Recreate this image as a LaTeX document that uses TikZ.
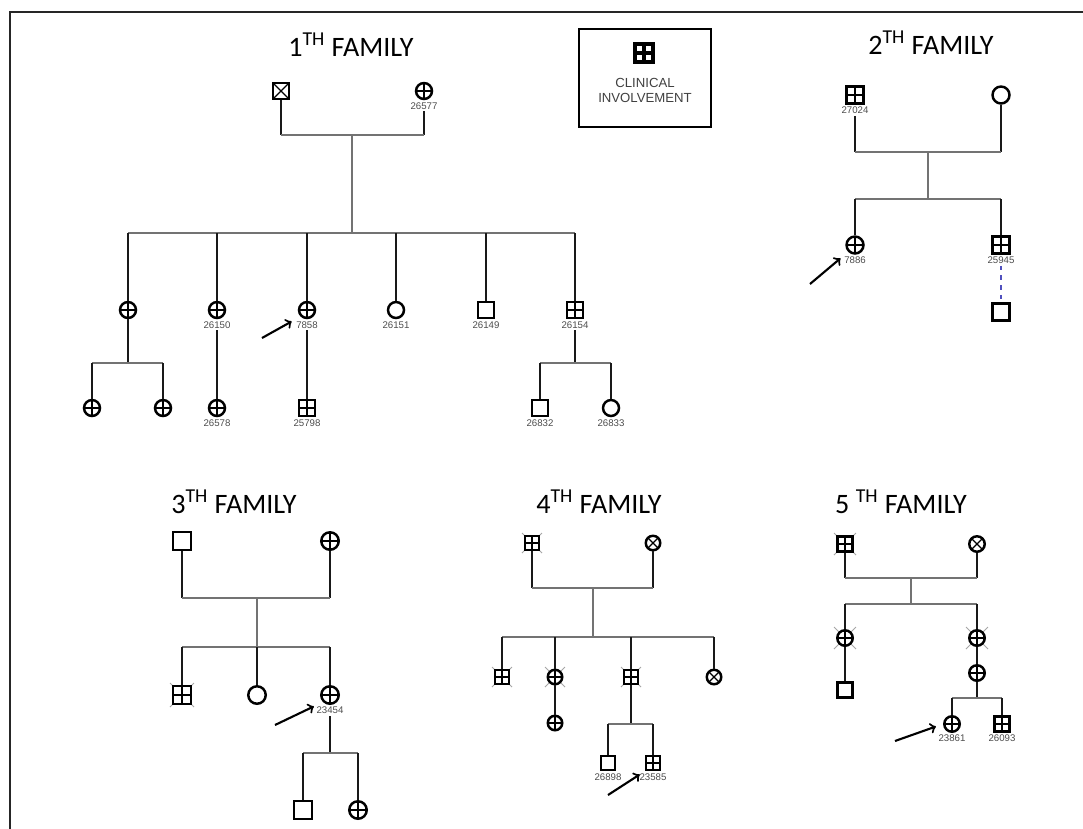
\documentclass[tikz,border=0pt]{standalone}
\usepackage{fontspec}
\setmainfont{Carlito}
\newfontfamily\arialf{Liberation Sans}
\newcommand{\pedid}{\arialf\fontsize{5.5}{6}\selectfont}
\usetikzlibrary{positioning,backgrounds}
\definecolor{dotblue}{RGB}{80,80,190}
\tikzset{
  male/.style={draw, rectangle, minimum size=0.32cm, inner sep=0pt, line width=1.4pt, fill=white},
  female/.style={draw, circle, minimum size=0.32cm, inner sep=0pt, line width=1.4pt, fill=white},
  aff/.style={path picture={\draw[line width=#1] (path picture bounding box.north) -- (path picture bounding box.south) (path picture bounding box.west) -- (path picture bounding box.east);}},
  aff/.default=1.1pt,
  xin/.style={path picture={\draw[line width=0.7pt] (path picture bounding box.north west) -- (path picture bounding box.south east) (path picture bounding box.north east) -- (path picture bounding box.south west);}},
  idlab/.style={font=\pedid, text=black!70, inner sep=1pt},
  famtitle/.style={font=\fontsize{16}{18}\selectfont, inner sep=0pt},
  stem/.style={line width=1.3pt, black!90},
  bar/.style={line width=1.1pt, black!55},
  dec/.style={line width=0.5pt, black!35},
  pointer/.style={->, line width=1.2pt, shorten >=0.2cm}
}
\begin{document}
\begin{tikzpicture}[x=0.02cm, y=-0.02cm]  %1 px = 0.02 cm
\useasboundingbox (0,0) rectangle (1083,829);
\draw[line width=1.4pt, black!85] (1083,12) -- (10,12) -- (10,829); %moldura
    %Legenda
\node[draw, line width=1.5pt, minimum width=2.64cm, minimum height=1.96cm] (legbox) at (645,78) {};
\node[male, aff=1.8pt, line width=2.2pt, minimum size=0.36cm] (legsym) at (644,53) {};
\node[font=\arialf\fontsize{7.5}{8.5}\selectfont, text=black!75, align=center] (legtext) at (645,90.5) {CLINICAL\\INVOLVEMENT};
    %Familia 1
\node[famtitle] (t1) at (351,45) {1\textsuperscript{TH} FAMILY};
\node[male, xin] (f1dad) at (281,91) {};
\node[female, aff] (f1mom) at (424,91) {};
\node[idlab, below=0pt of f1mom] (f1momid) {26577};
\coordinate (f1m) at (352,135);
\coordinate (f1s) at (352,233);
\node[female, aff] (f1c1) at (128,310) {};
\node[female, aff] (f1c2) at (217,310) {};
\node[female, aff] (f1c3) at (307,310) {};
\node[female] (f1c4) at (396,310) {};
\node[male] (f1c5) at (486,310) {};
\node[male, aff] (f1c6) at (575,310) {};
\node[idlab, below=0pt of f1c2] (f1c2id) {26150};
\node[idlab, below=0pt of f1c3] (f1c3id) {7858};
\node[idlab, below=0pt of f1c4] (f1c4id) {26151};
\node[idlab, below=0pt of f1c5] (f1c5id) {26149};
\node[idlab, below=0pt of f1c6] (f1c6id) {26154};
\coordinate (f1s1) at (128,363);
\coordinate (f1s6) at (575,363);
\node[female, aff] (f1g1) at (92,408) {};
\node[female, aff] (f1g2) at (163,408) {};
\node[female, aff] (f1g3) at (217,408) {};
\node[male, aff] (f1g4) at (307,408) {};
\node[male] (f1g5) at (540,408) {};
\node[female] (f1g6) at (611,408) {};
\node[idlab, below=0pt of f1g3] (f1g3id) {26578};
\node[idlab, below=0pt of f1g4] (f1g4id) {25798};
\node[idlab, below=0pt of f1g5] (f1g5id) {26832};
\node[idlab, below=0pt of f1g6] (f1g6id) {26833};
\draw[stem] (f1dad.south) -- (f1dad |- f1m);
\draw[stem] (f1momid.south) -- (f1mom |- f1m);
\draw[bar] (f1dad |- f1m) -- (f1mom |- f1m);
\draw[bar] (f1m) -- (f1s);
\draw[bar] (f1c1 |- f1s) -- (f1c6 |- f1s);
\foreach \c in {f1c1,f1c2,f1c3,f1c4,f1c5,f1c6} \draw[stem] (\c |- f1s) -- (\c.north);
\draw[stem] (f1c1.south) -- (f1s1);
\draw[bar] (f1g1 |- f1s1) -- (f1g2 |- f1s1);
\draw[stem] (f1c2id.south) -- (f1g3.north);
\draw[stem] (f1c3id.south) -- (f1g4.north);
\draw[stem] (f1c6id.south) -- (f1s6);
\draw[bar] (f1g5 |- f1s6) -- (f1g6 |- f1s6);
\foreach \c/\s in {f1g1/f1s1,f1g2/f1s1,f1g5/f1s6,f1g6/f1s6} \draw[stem] (\c |- \s) -- (\c.north);
\coordinate (f1arr) at (262,338);
\draw[pointer] (f1arr) -- (f1c3.south west); %probando
    %Familia 2
\begin{scope}[male/.append style={minimum size=0.34cm}, female/.append style={minimum size=0.34cm}]
\node[famtitle] (t2) at (931,43) {2\textsuperscript{TH} FAMILY};
\node[male, aff] (f2dad) at (855,95) {};
\node[female] (f2mom) at (1001,95) {};
\node[idlab, below=0pt of f2dad] (f2dadid) {27024};
\coordinate (f2m) at (928,152);
\coordinate (f2s) at (928,199);
\node[female, aff] (f2c1) at (855,245) {};
\node[male, aff] (f2c2) at (1001,245) {};
\node[idlab, below=0pt of f2c1] (f2c1id) {7886};
\node[idlab, below=0pt of f2c2] (f2c2id) {25945};
\node[male] (f2g1) at (1001,312) {};
\end{scope}
\draw[stem] (f2dadid.south) -- (f2dad |- f2m);
\draw[stem] (f2mom.south) -- (f2mom |- f2m);
\draw[bar] (f2dad |- f2m) -- (f2mom |- f2m);
\draw[bar] (f2m) -- (f2s);
\draw[bar] (f2c1 |- f2s) -- (f2c2 |- f2s);
\foreach \c in {f2c1,f2c2} \draw[stem] (\c |- f2s) -- (\c.north);
\draw[line width=1.4pt, dotblue, dash pattern=on 2.5pt off 3pt] (f2c2id.south) -- (f2g1.north);
\coordinate (f2arr) at (810,284);
\draw[pointer] (f2arr) -- (f2c1.south west);
    %Familia 3
\begin{scope}[male/.append style={minimum size=0.35cm}, female/.append style={minimum size=0.35cm}]
\node[famtitle] (t3) at (234,502) {3\textsuperscript{TH} FAMILY};
\node[male] (f3dad) at (182,541) {};
\node[female, aff] (f3mom) at (330,541) {};
\coordinate (f3m) at (257,598);
\coordinate (f3s) at (257,647);
\node[male, aff] (f3c1) at (182,695) {};
\node[female] (f3c2) at (257,695) {};
\node[female, aff] (f3c3) at (330,695) {};
\node[idlab, below=0pt of f3c3] (f3c3id) {23454};
\coordinate (f3s3) at (330,753);
\node[male] (f3g1) at (303,810) {};
\node[female, aff] (f3g2) at (358,810) {};
\end{scope}
\draw[stem] (f3dad.south) -- (f3dad |- f3m);
\draw[stem] (f3mom.south) -- (f3mom |- f3m);
\draw[bar] (f3dad |- f3m) -- (f3mom |- f3m);
\draw[bar] (f3m) -- (f3s);
\draw[bar] (f3c1 |- f3s) -- (f3c3 |- f3s);
\foreach \c in {f3c1,f3c2,f3c3} \draw[stem] (\c |- f3s) -- (\c.north);
\draw[stem] (f3c3id.south) -- (f3s3);
\draw[bar] (f3g1 |- f3s3) -- (f3g2 |- f3s3);
\foreach \c in {f3g1,f3g2} \draw[stem] (\c |- f3s3) -- (\c.north);
\coordinate (f3arr) at (275,725);
\draw[pointer] (f3arr) -- (f3c3.south west);
    %Familia 4
\begin{scope}[male/.append style={minimum size=0.28cm}, female/.append style={minimum size=0.29cm}]
\node[famtitle] (t4) at (599,502) {4\textsuperscript{TH} FAMILY};
\node[male, aff] (f4dad) at (532,543) {};
\node[female, xin] (f4mom) at (653,543) {};
\coordinate (f4m) at (593,588);
\coordinate (f4s) at (593,637);
\node[male, aff] (f4c1) at (502,677) {};
\node[female, aff] (f4c2) at (555,677) {};
\node[male, aff] (f4c3) at (631,677) {};
\node[female, xin] (f4c4) at (714,677) {};
\node[female, aff] (f4g1) at (555,723) {};
\coordinate (f4s3) at (631,724);
\node[male] (f4g2) at (608,763) {};
\node[male, aff] (f4g3) at (653,763) {};
\node[idlab, below=0pt of f4g2] (f4g2id) {26898};
\node[idlab, below=0pt of f4g3] (f4g3id) {23585};
\end{scope}
\draw[stem] (f4dad.south) -- (f4dad |- f4m);
\draw[stem] (f4mom.south) -- (f4mom |- f4m);
\draw[bar] (f4dad |- f4m) -- (f4mom |- f4m);
\draw[bar] (f4m) -- (f4s);
\draw[bar] (f4c1 |- f4s) -- (f4c4 |- f4s);
\foreach \c in {f4c1,f4c2,f4c3,f4c4} \draw[stem] (\c |- f4s) -- (\c.north);
\draw[stem] (f4c2.south) -- (f4g1.north);
\draw[stem] (f4c3.south) -- (f4s3);
\draw[bar] (f4g2 |- f4s3) -- (f4g3 |- f4s3);
\foreach \c in {f4g2,f4g3} \draw[stem] (\c |- f4s3) -- (\c.north);
\coordinate (f4arr) at (608,795);
\draw[pointer, shorten >=0.12cm] (f4arr) -- (f4g3.south west);
    %Familia 5
\begin{scope}[male/.append style={minimum size=0.30cm}, female/.append style={minimum size=0.31cm}]
\node[famtitle] (t5) at (901,502) {5 \textsuperscript{TH} FAMILY};
\node[male, aff] (f5dad) at (845,544) {};
\node[female, xin] (f5mom) at (977,544) {};
\coordinate (f5m) at (911,578);
\coordinate (f5s) at (911,604);
\node[female, aff] (f5c1) at (845,638) {};
\node[female, aff] (f5c2) at (977,638) {};
\node[male] (f5g1) at (845,690) {};
\node[female, aff] (f5g2) at (977,673) {};
\coordinate (f5s2) at (977,698);
\node[female, aff] (f5h1) at (952,724) {};
\node[male, aff] (f5h2) at (1002,724) {};
\node[idlab, below=0pt of f5h1] (f5h1id) {23861};
\node[idlab, below=0pt of f5h2] (f5h2id) {26093};
\end{scope}
\draw[stem] (f5dad.south) -- (f5dad |- f5m);
\draw[stem] (f5mom.south) -- (f5mom |- f5m);
\draw[bar] (f5dad |- f5m) -- (f5mom |- f5m);
\draw[bar] (f5m) -- (f5s);
\draw[bar] (f5c1 |- f5s) -- (f5c2 |- f5s);
\foreach \c in {f5c1,f5c2} \draw[stem] (\c |- f5s) -- (\c.north);
\draw[stem] (f5c1.south) -- (f5g1.north);
\draw[stem] (f5c2.south) -- (f5g2.north);
\draw[stem] (f5g2.south) -- (f5s2);
\draw[bar] (f5h1 |- f5s2) -- (f5h2 |- f5s2);
\foreach \c in {f5h1,f5h2} \draw[stem] (\c |- f5s2) -- (\c.north);
\coordinate (f5arr) at (895,741);
\draw[pointer, shorten >=0.15cm] (f5arr) -- (f5h1.west);
    %Falecidos (cruz cinza)
\begin{scope}[on background layer]
\foreach \n/\r in {f3c1/12,f4dad/10,f4c1/10,f4c2/10,f4c3/10,f5dad/11,f5c1/11,f5c2/11}
  \draw[dec] ([shift={(-\r,-\r)}]\n.center) -- ([shift={(\r,\r)}]\n.center) ([shift={(-\r,\r)}]\n.center) -- ([shift={(\r,-\r)}]\n.center);
\end{scope}
\end{tikzpicture}
\end{document}
